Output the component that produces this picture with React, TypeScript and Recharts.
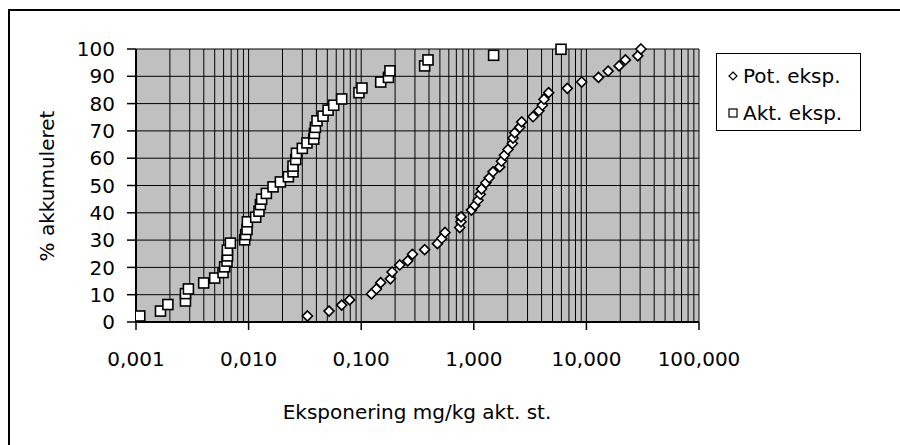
// @ts-nocheck
import React from 'react'
import { ScatterChart, Scatter, XAxis, YAxis, CartesianGrid, ReferenceLine } from 'recharts'

const potX = [0.0333, 0.0518, 0.0671, 0.079, 0.1233, 0.1365, 0.149, 0.1815, 0.188, 0.22, 0.259, 0.285, 0.366, 0.475, 0.519, 0.555, 0.75, 0.77, 0.77, 0.953, 1.02, 1.09, 1.14, 1.17, 1.28, 1.37, 1.48, 1.7, 1.76, 1.87, 2.01, 2.2, 2.23, 2.31, 2.56, 2.66, 3.36, 3.79, 4.06, 4.2, 4.62, 6.77, 9.08, 12.8, 15.6, 19.5, 22.2, 28.6, 30.5]
const potY = [2.2, 4.0, 6.2, 8.1, 10.3, 12.1, 14.4, 15.8, 18.3, 20.9, 22.4, 24.8, 26.5, 28.7, 30.6, 32.8, 34.6, 36.7, 38.5, 41.0, 42.7, 44.6, 46.8, 48.7, 51.0, 52.8, 55.0, 56.8, 58.9, 61.1, 63.2, 65.4, 67.4, 69.3, 71.3, 73.3, 75.2, 77.4, 79.4, 81.6, 84.0, 85.6, 87.9, 89.6, 91.9, 93.8, 96.0, 97.5, 100]

const aktX = [0.00108, 0.00165, 0.00192, 0.00275, 0.00275, 0.00292, 0.00399, 0.005, 0.00593, 0.00613, 0.00643, 0.0065, 0.00648, 0.00689, 0.00923, 0.00942, 0.00968, 0.00975, 0.01156, 0.01236, 0.01273, 0.01306, 0.01438, 0.01648, 0.01916, 0.02256, 0.0248, 0.0248, 0.0262, 0.0266, 0.03, 0.033, 0.0379, 0.0384, 0.0392, 0.0405, 0.0458, 0.0508, 0.057, 0.0671, 0.0955, 0.1016, 0.149, 0.1745, 0.18, 0.366, 0.392, 1.5, 5.95]
const aktY = [2.2, 4.0, 6.4, 7.7, 10.4, 12.1, 14.3, 16.1, 18.1, 20.2, 22.3, 24.2, 26.3, 28.9, 30.1, 32.0, 33.9, 36.7, 38.4, 40.6, 43.0, 45.0, 47.1, 49.5, 51.3, 53.2, 55.0, 57.1, 59.5, 61.8, 63.6, 65.6, 67.0, 69.1, 71.3, 73.7, 75.4, 77.6, 79.4, 81.7, 84.0, 85.7, 87.9, 89.6, 92.0, 93.8, 96.0, 97.7, 99.9]

const xTicks = [0.001, 0.01, 0.1, 1, 10, 100]
const xTickLabels = ['0,001', '0,010', '0,100', '1,000', '10,000', '100,000']
const yTicks = [0, 10, 20, 30, 40, 50, 60, 70, 80, 90, 100]

const FONT = '"DejaVu Sans", sans-serif'

// minor log gridlines (2..9 in each decade)
const minorLines = []
xTicks.slice(0, -1).forEach(d => {
  for (let m = 2; m <= 9; m++) minorLines.push(d * m)
})

const potData = potX.map((x, i) => ({ x, y: potY[i] }))
const aktData = aktX.map((x, i) => ({ x, y: aktY[i] }))

const Diamond = ({ cx, cy }: any) => (
  <path d={`M${cx},${cy - 5} L${cx + 5},${cy} L${cx},${cy + 5} L${cx - 5},${cy} Z`} fill="#fff" stroke="#000" strokeWidth={1.6} />
)
const Square = ({ cx, cy }: any) => (
  <rect x={cx - 5} y={cy - 5} width={10} height={10} fill="#fff" stroke="#000" strokeWidth={1.6} />
)

export default function App() {
  return (
    <div style={{ position: 'fixed', left: 0, top: 0, width: 900, height: 445, overflow: 'hidden', background: '#fff', fontFamily: FONT }}>
      <div style={{ position: 'absolute', left: 8, top: 9, width: 940, height: 480, border: '2px solid #000' }} />
      <div style={{ position: 'absolute', left: 0, top: 0 }}>
        <ScatterChart width={900} height={445} margin={{ top: 49, right: 201, left: 100, bottom: 83 }}>
          <CartesianGrid fill="#c0c0c0" fillOpacity={1} stroke="#000" strokeOpacity={1} />
          {minorLines.map(v => (
            <ReferenceLine key={v} x={v} stroke="#000" strokeWidth={1} />
          ))}
          <XAxis
            type="number"
            dataKey="x"
            scale="log"
            domain={[0.001, 100]}
            allowDataOverflow
            ticks={xTicks}
            interval={0}
            tickFormatter={(v, i) => xTickLabels[i]}
            tick={{ fill: '#000', fontSize: 20, fontFamily: FONT }}
            tickSize={8}
            tickMargin={22}
            height={40}
            axisLine={{ stroke: '#000', strokeWidth: 2 }}
            tickLine={{ stroke: '#000', strokeWidth: 1.5 }}
          />
          <YAxis
            type="number"
            dataKey="y"
            domain={[0, 100]}
            ticks={yTicks}
            interval={0}
            tick={{ fill: '#000', fontSize: 20, fontFamily: FONT }}
            tickSize={9}
            tickMargin={12}
            width={36}
            axisLine={{ stroke: '#000', strokeWidth: 2 }}
            tickLine={{ stroke: '#000', strokeWidth: 1.5 }}
          />
          <Scatter name="Pot. eksp." data={potData} shape={Diamond} isAnimationActive={false} />
          <Scatter name="Akt. eksp." data={aktData} shape={Square} isAnimationActive={false} />
        </ScatterChart>
      </div>
      <div style={{ position: 'absolute', left: 716, top: 53, width: 143, height: 76, border: '1px solid #000', background: '#fff', fontSize: 20, color: '#000' }}>
        <div style={{ position: 'absolute', left: 11, top: 10, display: 'flex', alignItems: 'center', whiteSpace: 'nowrap' }}>
          <svg width={10} height={10} style={{ marginRight: 5 }}><path d="M5,1 L9,5 L5,9 L1,5 Z" fill="#fff" stroke="#000" strokeWidth={1.2} /></svg>
          <span>Pot. eksp.</span>
        </div>
        <div style={{ position: 'absolute', left: 11, top: 47, display: 'flex', alignItems: 'center', whiteSpace: 'nowrap' }}>
          <svg width={10} height={10} style={{ marginRight: 5 }}><rect x={1} y={1} width={8} height={8} fill="#fff" stroke="#000" strokeWidth={1.2} /></svg>
          <span>Akt. eksp.</span>
        </div>
      </div>
      <div style={{ position: 'absolute', left: 47, top: 186, transform: 'translate(-50%, -50%) rotate(-90deg)', fontSize: 20, whiteSpace: 'nowrap', color: '#000' }}>
        % akkumuleret
      </div>
      <div style={{ position: 'absolute', left: 417, top: 412, transform: 'translate(-50%, -50%)', fontSize: 20, whiteSpace: 'nowrap', color: '#000' }}>
        Eksponering mg/kg akt. st.
      </div>
    </div>
  )
}
